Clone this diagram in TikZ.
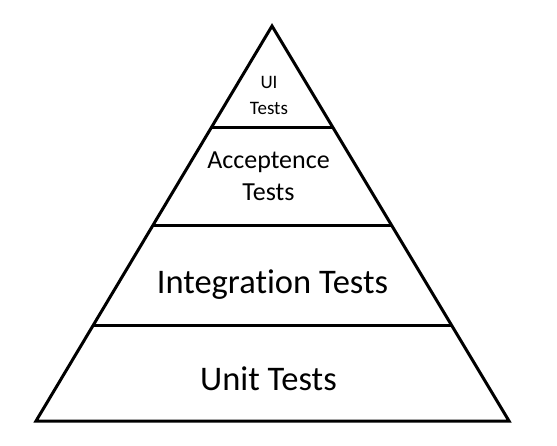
\documentclass[tikz,border=0pt]{standalone}
\usepackage{fontspec}
\setmainfont[Ligatures=NoCommon]{Carlito}
\usetikzlibrary{calc}
\begin{document}
\begin{tikzpicture}[x=1pt,y=-1pt,
  edge/.style={line width=3pt,line join=miter,black},
  layer/.style={line width=3pt,black},
  label/.style={anchor=base,align=center,inner sep=0pt,text=black}]
  \useasboundingbox[fill=white] (0,0) rectangle (557,445);
  % outline of the pyramid
  \coordinate (apex) at (272,26);
  \coordinate (bl) at (36,421);
  \coordinate (br) at (509,421);
  \draw[edge] (bl) -- (apex) -- (br) -- cycle;
  % layer boundaries on the two sides
  \foreach \n/\t in {a/0.2557,b/0.5038,c/0.7570}{
    \coordinate (l\n) at ($(apex)!\t!(bl)$);
    \coordinate (r\n) at ($(apex)!\t!(br)$);
  }
  \draw[layer] (la) -- (ra);
  \draw[layer] (lb) -- (rb);
  \draw[layer] (lc) -- (rc);
  % layer captions (base anchor sits on the last line)
  \node[label,font=\fontsize{19}{26}\selectfont] (ui) at (269,114) {UI\\Tests};
  \node[label,font=\fontsize{26}{32}\selectfont] (acc) at (268.5,200) {Acceptence\\Tests};
  \node[label,font=\fontsize{34.5}{40}\selectfont] (int) at (272.5,293) {Integration Tests};
  \node[label,font=\fontsize{34.5}{40}\selectfont] (unit) at (268.5,390) {Unit Tests};
\end{tikzpicture}
\end{document}
